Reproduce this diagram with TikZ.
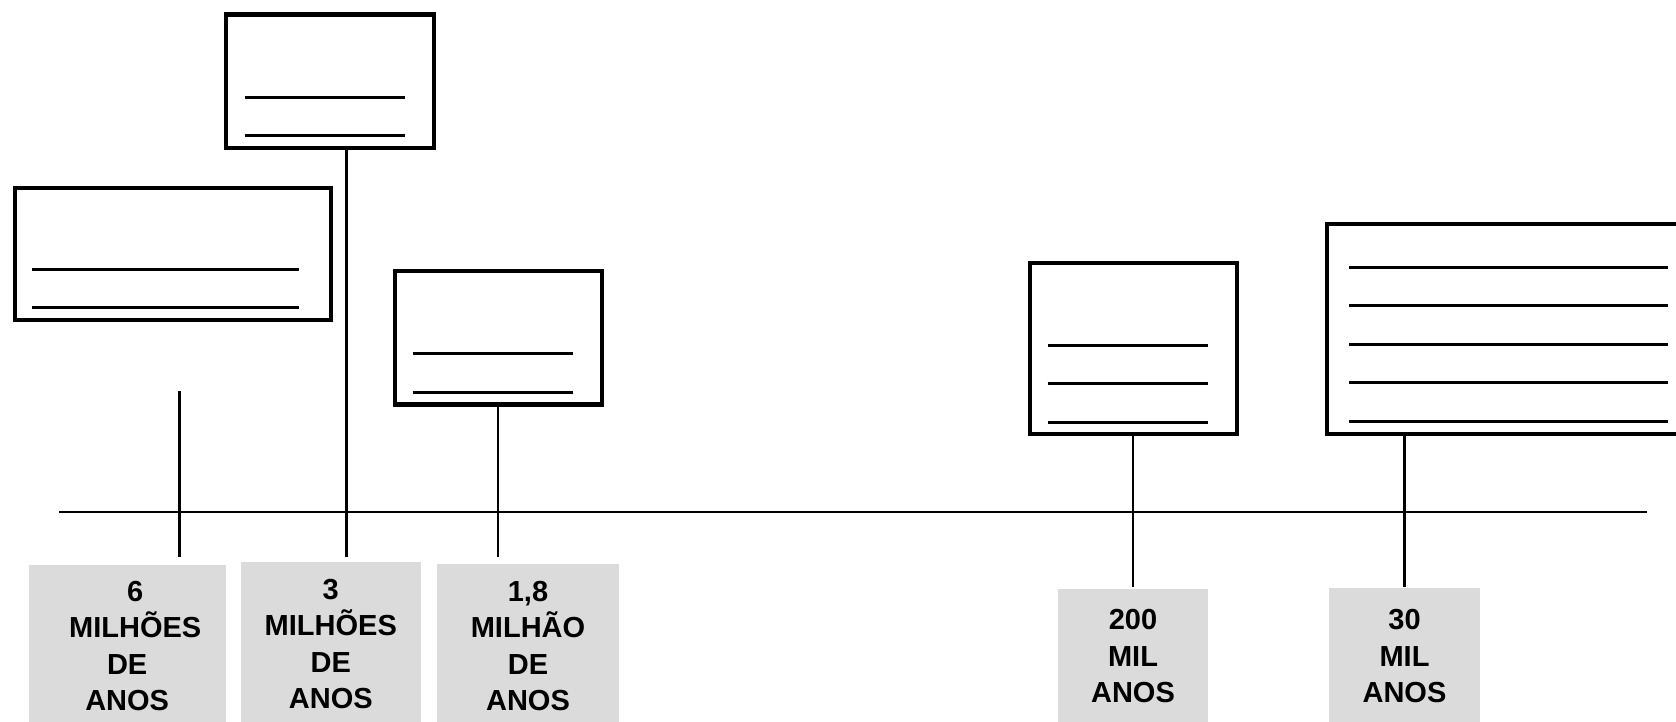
\documentclass[tikz,border=0pt]{standalone}
\usepackage{fontspec}
\setmainfont{Liberation Sans}
\begin{document}
\begin{tikzpicture}[x=1pt,y=-1pt,
  card/.style={draw=black, line width=4.2pt, fill=white, inner sep=0pt},
  blank/.style={draw=black, line width=3pt},
  stem/.style={draw=black, line width=2.5pt},
  axisline/.style={draw=black, line width=2.2pt},
  datebox/.style={fill=gray!28, draw=none, inner sep=0pt, align=center,
    font=\fontsize{29}{36.5}\selectfont\bfseries}]
\clip (0,0) rectangle (1676,722);
\fill[white] (0,0) rectangle (1676,722);
% cards
\node[card, minimum width=208pt, minimum height=133.2pt] (B2) at (330.3,81.2) {};
\node[card, minimum width=316pt, minimum height=132.1pt] (B1) at (172.6,253.85) {};
\node[card, minimum width=206.9pt, minimum height=133.2pt] (B3) at (498.65,337.8) {};
\node[card, minimum width=207pt, minimum height=171.7pt] (B4) at (1133.6,348.45) {};
\node[card, minimum width=362.8pt, minimum height=210.2pt] (B5) at (1508.6,329.2) {};
% blank writing lines
\draw[blank] (244.8,97.3) -- (405.1,97.3);
\draw[blank] (244.8,135.7) -- (405.1,135.7);
\draw[blank] (32.1,269.4) -- (299.3,269.4);
\draw[blank] (32.1,307.8) -- (299.3,307.8);
\draw[blank] (412.6,353.8) -- (572.9,353.8);
\draw[blank] (412.6,392.3) -- (572.9,392.3);
\draw[blank] (1047.5,345.3) -- (1207.9,345.3);
\draw[blank] (1047.5,383.7) -- (1207.9,383.7);
\draw[blank] (1047.5,422.2) -- (1207.9,422.2);
\foreach \yy in {267.2,305.7,344.2,382.7,421.1}
  \draw[blank] (1349,\yy) -- (1667.5,\yy);
% date boxes
\node[datebox, minimum width=196.6pt, minimum height=161.2pt] (G1) at (127.2,646)
  {\hbox{\kern16pt 6}\\\hbox{\kern16pt MILHÕES}\\DE\\ANOS};
\node[datebox, minimum width=180.6pt, minimum height=164pt] (G2) at (330.8,644.2)
  {3\\MILHÕES\\DE\\ANOS};
\node[datebox, minimum width=181.7pt, minimum height=163.4pt] (G3) at (528,646)
  {1,8\\MILHÃO\\DE\\ANOS};
\node[datebox, minimum width=149.7pt, minimum height=134.6pt] (G4) at (1133,656.2)
  {200\\MIL\\ANOS};
\node[datebox, minimum width=151.7pt, minimum height=136.8pt] (G5) at (1404.5,656.2)
  {30\\MIL\\ANOS};
% timeline
\coordinate (L) at (58.8,512);
\coordinate (R) at (1647.2,512);
\draw[axisline] (L) -- (R);
% stems
\coordinate (s1) at (179.6,391.2);
\coordinate (e1) at (179.6,556.9);
\coordinate (e2) at (346.3,556.9);
\coordinate (e3) at (498.1,556.9);
\coordinate (e4) at (1133,587);
\coordinate (e5) at (1404.5,587);
\draw[stem] (s1) -- (e1);
\draw[stem] (B2.south -| e2) -- (e2);
\draw[stem] (B3.south -| e3) -- (e3);
\draw[stem] (B4.south -| e4) -- (e4);
\draw[stem] (B5.south -| e5) -- (e5);
\end{tikzpicture}
\end{document}
